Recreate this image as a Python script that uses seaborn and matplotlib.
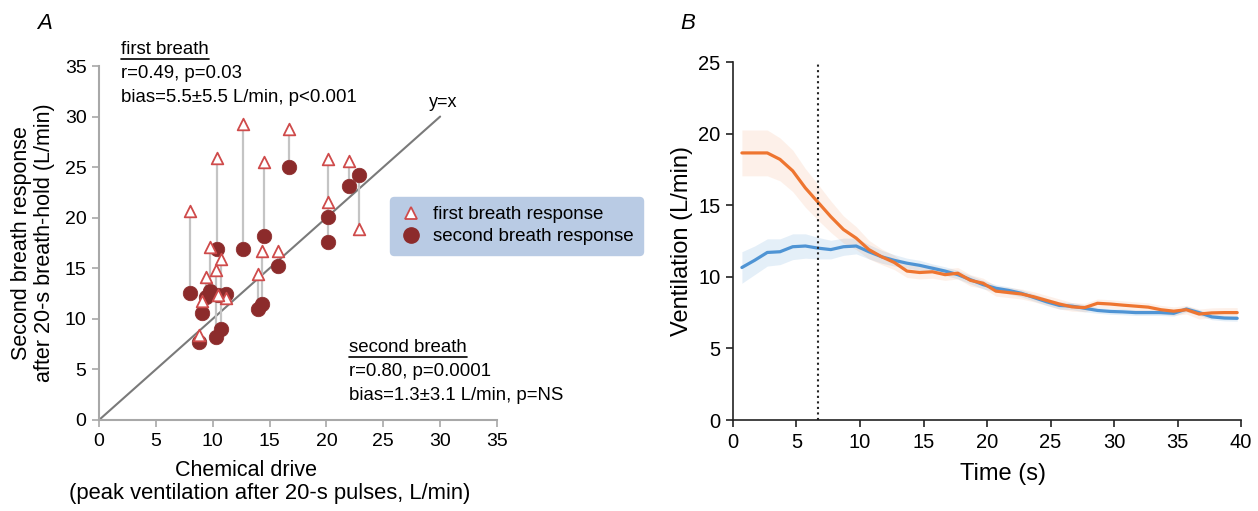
import numpy as np
import pandas as pd
import matplotlib
matplotlib.use("Agg")
import matplotlib.pyplot as plt
from matplotlib.lines import Line2D
import seaborn as sns

### Dados painel A (quimiorreflexo x resposta após apneia)
drive = [8.0, 10.4, 12.7, 14.5, 16.7, 20.1, 20.1, 22.0, 22.9, 14.35,
         15.7, 14.0, 9.8, 10.76, 10.26, 9.45, 11.2, 9.1, 8.8, 10.5]
first_breath = [20.7, 25.9, 29.3, 25.5, 28.8, 25.8, 21.6, 25.65, 18.9, 16.75,
                16.75, 14.4, 17.1, 15.9, 14.8, 14.1, 12.1, 11.8, 8.4, 12.4]
second_breath = [12.6, 16.9, 16.95, 18.2, 25.0, 17.6, 20.05, 23.15, 24.2, 11.5,
                 15.2, 10.95, 12.76, 9.0, 8.2, 12.2, 12.5, 10.55, 7.7, 12.4]

### Dados painel B (ventilação no tempo)
tempo = [0.7 + i for i in range(40)]
vent_azul = [10.65, 11.15, 11.7, 11.75, 12.1, 12.15, 12.0, 11.9, 12.1, 12.15,
             11.75, 11.4, 11.15, 10.95, 10.8, 10.6, 10.4, 10.15, 9.8, 9.45,
             9.2, 9.05, 8.85, 8.55, 8.25, 8.0, 7.95, 7.8, 7.65, 7.58,
             7.55, 7.5, 7.5, 7.5, 7.45, 7.75, 7.5, 7.2, 7.12, 7.1]
ep_azul = [1.1, 1.0, 0.95, 0.9, 0.9, 0.85, 0.75, 0.65, 0.6, 0.55,
           0.5, 0.45, 0.4, 0.35, 0.35, 0.3, 0.3, 0.3, 0.3, 0.3,
           0.25, 0.25, 0.25, 0.25, 0.25, 0.25, 0.25, 0.25, 0.2, 0.2,
           0.2, 0.2, 0.2, 0.2, 0.2, 0.2, 0.2, 0.2, 0.2, 0.2]
vent_laranja = [18.65, 18.65, 18.65, 18.2, 17.4, 16.2, 15.2, 14.2, 13.3, 12.7,
                11.9, 11.4, 11.0, 10.4, 10.3, 10.35, 10.15, 10.25, 9.75, 9.55,
                9.0, 8.9, 8.8, 8.6, 8.35, 8.1, 7.9, 7.85, 8.15, 8.1,
                8.02, 7.95, 7.88, 7.7, 7.6, 7.7, 7.4, 7.48, 7.5, 7.5]
ep_laranja = [1.6, 1.6, 1.6, 1.5, 1.45, 1.35, 1.25, 1.1, 0.95, 0.8,
              0.65, 0.55, 0.5, 0.45, 0.45, 0.45, 0.4, 0.4, 0.4, 0.35,
              0.35, 0.35, 0.35, 0.35, 0.35, 0.35, 0.3, 0.3, 0.3, 0.3,
              0.3, 0.3, 0.3, 0.3, 0.3, 0.3, 0.35, 0.35, 0.35, 0.35]
marca_t = 6.7

sns.set_theme(style="white")
plt.rcParams["font.family"] = ["Liberation Sans", "DejaVu Sans"]
plt.rcParams["text.color"] = "black"
plt.rcParams["axes.labelcolor"] = "black"
plt.rcParams["xtick.labelcolor"] = "black"
plt.rcParams["ytick.labelcolor"] = "black"

cor_tri = "#cf4b4b"
cor_circ = "#8c2b2b"
cor_azul = "#4f94d4"
cor_laranja = "#ee7530"

fig = plt.figure(figsize=(12.58, 5.11), dpi=100)
W, H = 1258, 511
axA = fig.add_axes([99 / W, 1 - 420 / H, 398 / W, 354 / H])
axB = fig.add_axes([733 / W, 1 - 420 / H, 508 / W, 358 / H])

### Painel A
df = pd.DataFrame({"drive": drive, "first": first_breath, "second": second_breath})
axA.plot([0, 30], [0, 30], color="#7a7a7a", lw=1.5, zorder=1)
axA.vlines(df["drive"], df["second"], df["first"], color="#c4c4c4", lw=1.6, zorder=2)
sns.scatterplot(data=df, x="drive", y="second", ax=axA, color=cor_circ, s=110,
                edgecolor=cor_circ, linewidth=0.5, zorder=3)
sns.scatterplot(data=df, x="drive", y="first", ax=axA, marker="^", s=70,
                facecolor="white", edgecolor=cor_tri, linewidth=1.3, zorder=4)
axA.set_xlim(0, 35)
axA.set_ylim(0, 35)
axA.set_xticks(range(0, 36, 5))
axA.set_yticks(range(0, 36, 5))
axA.set_xlabel("")
axA.set_ylabel("")
for lado in ["top", "right"]:
    axA.spines[lado].set_visible(False)
for lado in ["left", "bottom"]:
    axA.spines[lado].set_color("#a8a8a8")
    axA.spines[lado].set_linewidth(1.5)
axA.tick_params(direction="out", length=5, width=1.2, color="#a8a8a8",
                labelsize=14, pad=4, left=True, bottom=True)
axA.text(29.0, 30.6, "y=x", fontsize=13, ha="left", va="bottom")

handles = [Line2D([], [], marker="^", ls="", markersize=8, markerfacecolor="white",
                  markeredgecolor=cor_tri, markeredgewidth=1.3),
           Line2D([], [], marker="o", ls="", markersize=11, markerfacecolor=cor_circ,
                  markeredgecolor=cor_circ)]
leg = axA.legend(handles, ["first breath response", "second breath response"],
                 loc="upper left", bbox_to_anchor=(0.731, 0.63), borderaxespad=0,
                 fontsize=13.5, frameon=True, facecolor="#b9cbe4", edgecolor="#b9cbe4",
                 framealpha=1, handletextpad=0.6, labelspacing=0.25,
                 borderpad=0.5, handlelength=1.2)
leg.set_zorder(10)

fs_txt = 13.4
t1 = fig.text(121 / W, 1 - 50 / H, "first breath", fontsize=fs_txt, va="center")
fig.text(121 / W, 1 - 74 / H, "r=0.49, p=0.03", fontsize=fs_txt, va="center")
fig.text(121 / W, 1 - 98 / H, "bias=5.5±5.5 L/min, p<0.001", fontsize=fs_txt, va="center")
t2 = fig.text(349 / W, 1 - 348 / H, "second breath", fontsize=fs_txt, va="center")
fig.text(349 / W, 1 - 372 / H, "r=0.80, p=0.0001", fontsize=fs_txt, va="center")
fig.text(349 / W, 1 - 395 / H, "bias=1.3±3.1 L/min, p=NS", fontsize=fs_txt, va="center")

fig.text(33 / W, 1 - 243 / H, "Second breath response\nafter 20-s breath-hold (L/min)",
         fontsize=15.5, rotation=90, ha="center", va="center", linespacing=1.1)
fig.text(246 / W, 1 - 470 / H, "Chemical drive", fontsize=15.5, ha="center", va="center")
fig.text(270 / W, 1 - 494 / H, "(peak ventilation after 20-s pulses, L/min)",
         fontsize=15.8, ha="center", va="center")
fig.text(45 / W, 1 - 23 / H, "A", fontsize=16, style="italic", ha="center", va="center")
fig.text(688 / W, 1 - 23 / H, "B", fontsize=16, style="italic", ha="center", va="center")

### Painel B
dfB = pd.DataFrame({"tempo": tempo, "azul": vent_azul, "laranja": vent_laranja,
                    "ep_azul": ep_azul, "ep_laranja": ep_laranja})
axB.fill_between(dfB["tempo"], dfB["azul"] - dfB["ep_azul"], dfB["azul"] + dfB["ep_azul"],
                 color=cor_azul, alpha=0.15, lw=0)
axB.fill_between(dfB["tempo"], dfB["laranja"] - dfB["ep_laranja"],
                 dfB["laranja"] + dfB["ep_laranja"], color=cor_laranja, alpha=0.1, lw=0)
sns.lineplot(data=dfB, x="tempo", y="azul", ax=axB, color=cor_azul, lw=2.3)
sns.lineplot(data=dfB, x="tempo", y="laranja", ax=axB, color=cor_laranja, lw=2.3)
axB.axvline(marca_t, ymin=0, ymax=1, color="#222222", ls=":", lw=1.5)
axB.set_xlim(0, 40)
axB.set_ylim(0, 25)
axB.set_xticks(range(0, 41, 5))
axB.set_yticks(range(0, 26, 5))
axB.set_xlabel("Time (s)", fontsize=17)
axB.set_ylabel("Ventilation (L/min)", fontsize=17)
axB.xaxis.set_label_coords((1003 - 733) / 508, -(463 - 420) / 358)
axB.yaxis.set_label_coords(-(733 - 693) / 508, 0.5)
for lado in ["top", "right"]:
    axB.spines[lado].set_visible(False)
for lado in ["left", "bottom"]:
    axB.spines[lado].set_color("#222222")
    axB.spines[lado].set_linewidth(1.2)
axB.tick_params(direction="out", length=5, width=1.2, color="#222222",
                labelsize=14.5, pad=4, left=True, bottom=True)

### Sublinhados dos títulos das anotações
fig.canvas.draw()
rend = fig.canvas.get_renderer()
for t in [t1, t2]:
    bb = t.get_window_extent(rend)
    y0 = bb.y0 - 1
    fig.add_artist(Line2D([bb.x0 / W, bb.x1 / W], [y0 / H, y0 / H],
                          color="black", lw=1.2, transform=fig.transFigure))

plt.savefig("out.png", dpi=100)
